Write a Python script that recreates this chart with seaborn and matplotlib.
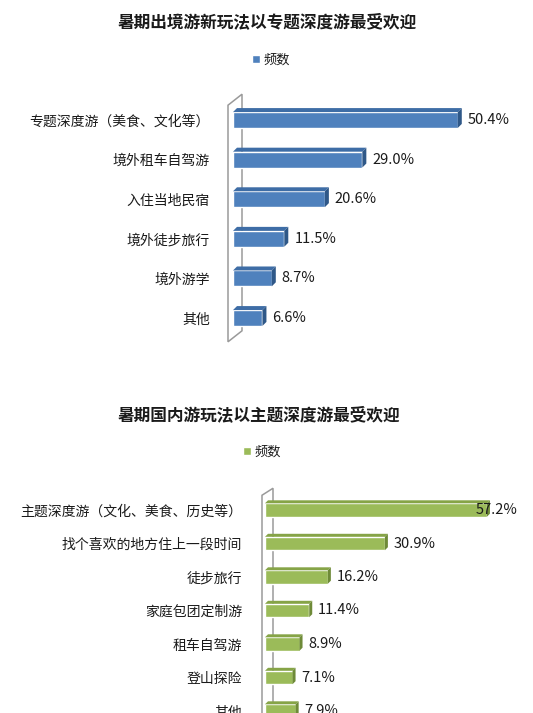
import seaborn as sns
import matplotlib.pyplot as plt
from matplotlib.patches import Polygon
from matplotlib.transforms import IdentityTransform

# data
out_title = '暑期出境游新玩法以专题深度游最受欢迎'
out_cats = ['专题深度游（美食、文化等）', '境外租车自驾游', '入住当地民宿', '境外徒步旅行', '境外游学', '其他']
out_vals = [50.4, 29.0, 20.6, 11.5, 8.7, 6.6]

dom_title = '暑期国内游玩法以主题深度游最受欢迎'
dom_cats = ['主题深度游（文化、美食、历史等）', '找个喜欢的地方住上一段时间', '徒步旅行', '家庭包团定制游',
            '租车自驾游', '登山探险', '其他']
dom_vals = [57.2, 30.9, 16.2, 11.4, 8.9, 7.1, 7.9]

legend_label = '频数'

sns.set_style('white')
plt.rcParams['font.family'] = ['Noto Sans CJK SC', 'DejaVu Sans']

W, H = 533, 713
fig = plt.figure(figsize=(W / 100, H / 100), dpi=100)


def px_axes(left, top, right, bottom):
    return fig.add_axes([left / W, 1 - bottom / H, (right - left) / W, (bottom - top) / H])


def bar3d(ax, cats, vals, colors, xmax, depth, wall, title, title_xy, legend_xy):
    front, top_c, side_c = colors
    sns.barplot(x=vals, y=cats, orient='h', color=front, width=0.4, saturation=1,
                ax=ax, label=legend_label, zorder=3)
    ax.set_xlim(0, xmax)
    ax.set_ylim(len(cats) - 0.5, -0.5)
    ax.set_xlabel('')
    ax.set_ylabel('')
    ax.set_xticks([])
    for s in ax.spines.values():
        s.set_visible(False)
    ax.tick_params(axis='y', length=0, pad=16.5, labelsize=10, labelcolor='#1a1a1a')

    # fake 3D faces drawn in pixel space from each bar
    dx, dy = depth
    for p in ax.patches:
        (x0, y0), (x1, y1) = ax.transData.transform([(p.get_x(), p.get_y()),
                                                    (p.get_x() + p.get_width(), p.get_y() + p.get_height())])
        yt, yb = max(y0, y1), min(y0, y1)
        ax.add_patch(Polygon([(x0, yt), (x1, yt), (x1 + dx, yt + dy), (x0 + dx, yt + dy)],
                             closed=True, transform=IdentityTransform(), facecolor=top_c,
                             edgecolor='none', clip_on=False, zorder=3))
        ax.add_patch(Polygon([(x1, yb), (x1, yt), (x1 + dx, yt + dy), (x1 + dx, yb + dy)],
                             closed=True, transform=IdentityTransform(), facecolor=side_c,
                             edgecolor='none', clip_on=False, zorder=3))

    # side wall of the 3D plot area
    (ax_l, ax_b), (ax_r, ax_t) = ax.transAxes.transform([(0, 0), (1, 1)])
    off, top_gap, bot_gap, wdx, wdy = wall
    wl = ax_l + off
    ax.add_patch(Polygon([(wl, ax_b - bot_gap), (wl, ax_t - top_gap), (wl + wdx, ax_t - top_gap + wdy),
                          (wl + wdx, ax_b - bot_gap + wdy)],
                         closed=True, transform=IdentityTransform(), facecolor='white',
                         edgecolor='#9a9a9a', lw=1.1, clip_on=False, zorder=1))

    # value labels
    pad = (dx + 6) / (ax_r - ax_l) * xmax
    for i, v in enumerate(vals):
        if v / xmax > 0.8:
            ax.text(xmax, i, f'{v:.1f}%', ha='right', va='center', fontsize=10.5, color='#1a1a1a', zorder=5)
        else:
            ax.text(v + pad, i, f'{v:.1f}%', ha='left', va='center', fontsize=10.5, color='#1a1a1a', zorder=5)

    fig.text(title_xy[0] / W, 1 - title_xy[1] / H, title, ha='center', va='center',
             fontsize=12, fontweight='bold', color='#1a1a1a')
    ax.legend(loc='center', bbox_to_anchor=(legend_xy[0] / W, 1 - legend_xy[1] / H),
              bbox_transform=fig.transFigure, frameon=False, fontsize=9.5,
              handlelength=0.6, handleheight=0.6, handletextpad=0.3, labelcolor='#1a1a1a')


ax1 = px_axes(233, 100.2, 233 + 66 * 4.46, 337.8)
bar3d(ax1, out_cats, out_vals, ('#4F81BD', '#3E6DA6', '#2F5888'), 66,
      depth=(4, 4), wall=(-5, 5, 4, 14, 11), title=out_title,
      title_xy=(267, 22), legend_xy=(271, 60))

ax2 = px_axes(265, 493.25, 265 + 65 * 3.88, 727.75)
bar3d(ax2, dom_cats, dom_vals, ('#9BBB59', '#86A447', '#6E8A38'), 65,
      depth=(3, 3), wall=(-3, 2, 4, 11, 7), title=dom_title,
      title_xy=(259, 415), legend_xy=(262, 452))

fig.savefig('out.png', dpi=100, facecolor='white')
